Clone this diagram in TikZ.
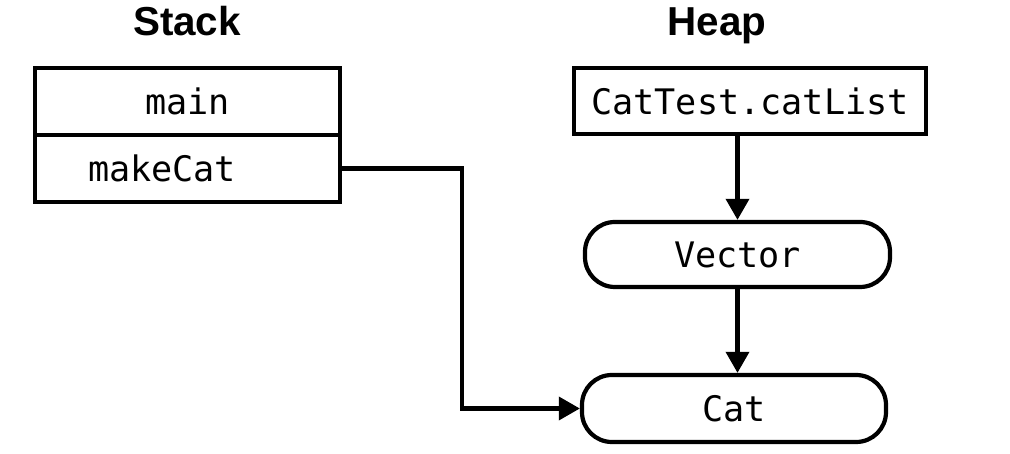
\documentclass[tikz,border=0pt]{standalone}
\usepackage{fontspec}
\setmainfont{Liberation Sans}
\setmonofont{DejaVu Sans Mono}
\usetikzlibrary{calc}
\usetikzlibrary{arrows.meta}

\tikzset{
    frame/.style={draw, line width=1.2pt, minimum width=3.05cm, minimum height=0.67cm, font=\ttfamily, inner sep=0pt},
    pill/.style={frame, rounded corners=8.5pt},
    title/.style={font=\fontsize{11.5}{13}\selectfont\bfseries, anchor=base},
    link/.style={line width=1.2pt, -{Triangle[length=6pt, width=6.5pt]}}
}

\begin{document}
\begin{tikzpicture}
            \useasboundingbox (0, 0) rectangle (10.1, -4.54);
            \node[title] (STACK) at (1.87, -0.36) {Stack};
            \node[title] (HEAP) at (7.17, -0.36) {Heap};
            \node[frame] (MAIN) at (1.875, -1.015) {main};
            \node[frame, text width=1.99cm, inner xsep=0.53cm, align=left] (MAKECAT) at (1.875, -1.685) {makeCat};
            \node[frame, minimum width=3.52cm, minimum height=0.66cm] (CATLIST) at (7.50, -1.01) {CatTest.catList};
            \node[pill, minimum height=0.65cm] (VECTOR) at (7.375, -2.545) {Vector};
            \node[pill, minimum width=3.04cm] (CAT) at (7.34, -4.085) {Cat};
            \draw[link] (CATLIST.south -| VECTOR.north) -- (VECTOR.north);
            \draw[link] (VECTOR.south) -- (VECTOR.south |- CAT.north);
            \draw[link] (MAKECAT.east) -- ++(1.2, 0) |- (CAT.west);
        \end{tikzpicture}
\end{document}
